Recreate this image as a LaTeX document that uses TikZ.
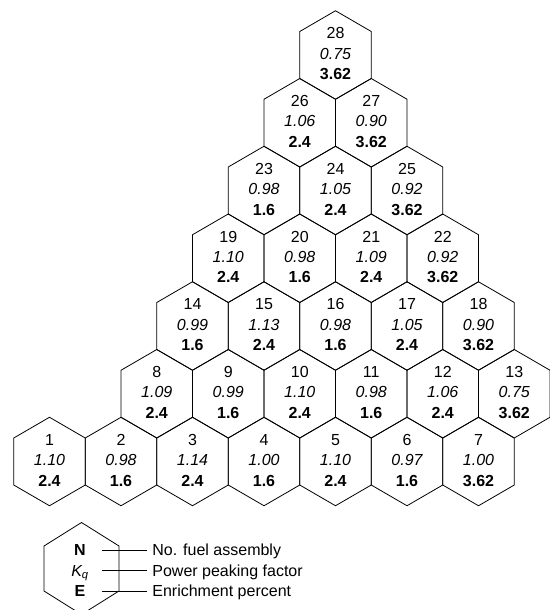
\documentclass[tikz,border=0pt]{standalone}
\usepackage{fontspec}
\setmainfont{Liberation Sans}
\usetikzlibrary{positioning}
\begin{document}
\begin{tikzpicture}[x=1pt,y=-1pt,line width=0.8pt,node distance=8.1pt,
  lbl/.style={inner sep=0pt,text height=11.4pt,text depth=0pt,font=\fontsize{16}{19}\selectfont},
  leg/.style={lbl,minimum width=43pt},
  txt/.style={lbl,anchor=west,inner xsep=5pt}]
\useasboundingbox (0,0) rectangle (549,610);
% assemblies: number / column / row / Kq / enrichment
\foreach \n/\k/\r/\kq/\en in {
  1/0/7/1.10/2.4, 2/1/7/0.98/1.6, 3/2/7/1.14/2.4, 4/3/7/1.00/1.6,
  5/4/7/1.10/2.4, 6/5/7/0.97/1.6, 7/6/7/1.00/3.62,
  8/1.5/6/1.09/2.4, 9/2.5/6/0.99/1.6, 10/3.5/6/1.10/2.4, 11/4.5/6/0.98/1.6,
  12/5.5/6/1.06/2.4, 13/6.5/6/0.75/3.62,
  14/2/5/0.99/1.6, 15/3/5/1.13/2.4, 16/4/5/0.98/1.6, 17/5/5/1.05/2.4, 18/6/5/0.90/3.62,
  19/2.5/4/1.10/2.4, 20/3.5/4/0.98/1.6, 21/4.5/4/1.09/2.4, 22/5.5/4/0.92/3.62,
  23/3/3/0.98/1.6, 24/4/3/1.05/2.4, 25/5/3/0.92/3.62,
  26/3.5/2/1.06/2.4, 27/4.5/2/0.90/3.62,
  28/4/1/0.75/3.62}{
    \coordinate (c\n) at ({49.5+71.5*\k},{461.5-67.75*(7-\r)});
    \draw (c\n) ++(0,-44.25) -- ++(35.75,20.75) -- ++(0,47) -- ++(-35.75,20.75)
      -- ++(-35.75,-20.75) -- ++(0,-47) -- cycle;
    \node[lbl] (kq\n) at ([yshift=1.5pt]c\n) {\itshape\kq};
    \node[lbl,above=of kq\n] (no\n) {\n};
    \node[lbl,below=of kq\n] (en\n) {\bfseries\en};
}
% legend
\coordinate (lc) at (81.5,568.5);
\draw (lc) ++(0,-46) -- ++(37.5,23.5) -- ++(0,45) -- ++(-37.5,23.5)
  -- ++(-37.5,-23.5) -- ++(0,-45) -- cycle;
\node[leg] (legN) at (80,550) {\bfseries N};
\node[leg] (legK) at (80,570.5) {\itshape K\textsubscript{q}};
\node[leg] (legE) at (80,591) {\bfseries E};
\node[txt] (txtN) at (147,550) {No. fuel assembly};
\node[txt] (txtK) at (147,570.5) {Power peaking factor};
\node[txt] (txtE) at (147,591) {Enrichment percent};
\draw (legN.east) -- (txtN.west);
\draw (legK.east) -- (txtK.west);
\draw (legE.east) -- (txtE.west);
\end{tikzpicture}
\end{document}
